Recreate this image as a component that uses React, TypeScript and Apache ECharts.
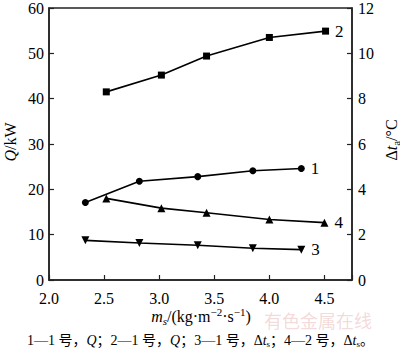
import React, { useEffect, useRef } from "react";
import * as echarts from "echarts";

const series1X = [2.33, 2.82, 3.35, 3.85, 4.29];
const series1Q = [17.1, 21.8, 22.8, 24.1, 24.6];
const series2X = [2.52, 3.02, 3.43, 4.0, 4.51];
const series2Q = [41.5, 45.2, 49.4, 53.5, 54.9];
const series3X = [2.33, 2.82, 3.35, 3.85, 4.29];
const series3T = [1.75, 1.63, 1.53, 1.4, 1.34];
const series4X = [2.52, 3.02, 3.43, 4.0, 4.5];
const series4T = [3.6, 3.17, 2.97, 2.67, 2.53];
const seriesNames = ["1", "2", "3", "4"];

const SERIF = "'Liberation Serif', 'Times New Roman', serif";

function pts(xs: number[], ys: number[], name: string) {
  return xs.map((x, i) =>
    i === xs.length - 1
      ? {
          value: [x, ys[i]],
          label: {
            show: true,
            formatter: name,
            position: "right",
            distance: 6,
            color: "#000",
            fontFamily: SERIF,
            fontSize: 17,
          },
        }
      : { value: [x, ys[i]] }
  );
}

export default function App() {
  const ref = useRef<HTMLDivElement>(null);
  useEffect(() => {
    if (!ref.current) return;
    const chart = echarts.init(ref.current, undefined, { renderer: "svg" });
    const axisCommon = {
      axisLine: { show: true, lineStyle: { color: "#222", width: 1.5 } },
      axisTick: { show: true, inside: true, length: 5, lineStyle: { color: "#222", width: 1.2 } },
      splitLine: { show: false },
      axisLabel: { color: "#000", fontFamily: SERIF, fontSize: 16 },
    };
    const lineCommon = {
      type: "line",
      lineStyle: { color: "#000", width: 1.6 },
      itemStyle: { color: "#000" },
      symbolSize: 7,
      showSymbol: true,
    };
    chart.setOption({
      animation: false,
      grid: {
        left: 49,
        top: 5,
        right: 48,
        bottom: 73,
        show: true,
        borderColor: "#222",
        borderWidth: 1.5,
        backgroundColor: "transparent",
      },
      xAxis: {
        type: "value",
        min: 2.0,
        max: 4.75,
        interval: 0.5,
        ...axisCommon,
        axisLabel: {
          ...axisCommon.axisLabel,
          margin: 10,
          formatter: (v: number) => (Math.abs(v - 4.75) < 1e-6 ? "" : v.toFixed(1)),
        },
      },
      yAxis: [
        {
          type: "value",
          min: 0,
          max: 60,
          interval: 10,
          position: "left",
          ...axisCommon,
          axisLabel: { ...axisCommon.axisLabel, margin: 5 },
        },
        {
          type: "value",
          min: 0,
          max: 12,
          interval: 2,
          position: "right",
          ...axisCommon,
          axisLabel: { ...axisCommon.axisLabel, margin: 6 },
        },
      ],
      series: [
        { ...lineCommon, name: seriesNames[0], yAxisIndex: 0, symbol: "circle", data: pts(series1X, series1Q, seriesNames[0]) },
        { ...lineCommon, name: seriesNames[1], yAxisIndex: 0, symbol: "rect", data: pts(series2X, series2Q, seriesNames[1]) },
        { ...lineCommon, name: seriesNames[2], yAxisIndex: 1, symbol: "triangle", symbolRotate: 180, symbolSize: 8, data: pts(series3X, series3T, seriesNames[2]) },
        { ...lineCommon, name: seriesNames[3], yAxisIndex: 1, symbol: "triangle", symbolSize: 8, data: pts(series4X, series4T, seriesNames[3]) },
      ],
      graphic: [
        {
          type: "text",
          x: 264,
          y: 320,
          z: -1,
          silent: true,
          style: {
            text: "有色金属在线",
            fill: "rgba(215,130,130,0.3)",
            font: `18px "Noto Sans CJK SC"`,
            align: "left",
            verticalAlign: "middle",
          },
        },
        {
          type: "text",
          x: 10,
          y: 142,
          rotation: Math.PI / 2,
          style: {
            text: "{i|Q}/kW",
            fill: "#000",
            font: `16px ${SERIF}`,
            align: "center",
            verticalAlign: "middle",
            rich: { i: { fontStyle: "italic", fontFamily: SERIF, fontSize: 16 } },
          },
        },
        {
          type: "text",
          x: 391,
          y: 140,
          rotation: Math.PI / 2,
          style: {
            text: "Δ{i|t}{sub|a}/°C",
            fill: "#000",
            font: `16px ${SERIF}`,
            align: "center",
            verticalAlign: "middle",
            rich: {
              i: { fontStyle: "italic", fontFamily: SERIF, fontSize: 16 },
              sub: { fontFamily: SERIF, fontSize: 11, verticalAlign: "bottom", lineHeight: 20 },
            },
          },
        },
        {
          type: "text",
          x: 201,
          y: 316,
          style: {
            text: "{i|m}{sub|s}/(kg·m{sup|−2}·s{sup|−1})",
            fill: "#000",
            font: `16px ${SERIF}`,
            align: "center",
            verticalAlign: "middle",
            rich: {
              i: { fontStyle: "italic", fontFamily: SERIF, fontSize: 16 },
              sub: { fontStyle: "italic", fontFamily: SERIF, fontSize: 11, verticalAlign: "bottom", lineHeight: 20 },
              sup: { fontFamily: SERIF, fontSize: 11, verticalAlign: "top", lineHeight: 20 },
            },
          },
        },
        {
          type: "text",
          x: 27,
          y: 340,
          style: {
            text: "1—1 号，{i|Q}；2—1 号，{i|Q}；3—1 号，Δ{i|t}{sub|s}；4—2 号，Δ{i|t}{sub|s}。",
            fill: "#000",
            font: `14px 'Liberation Serif', 'Noto Sans CJK SC', serif`,
            align: "left",
            verticalAlign: "middle",
            rich: {
              i: { fontStyle: "italic", fontFamily: SERIF, fontSize: 14 },
              sub: { fontFamily: SERIF, fontSize: 9, verticalAlign: "bottom", lineHeight: 16 },
            },
          },
        },
      ],
    });
    return () => chart.dispose();
  }, []);
  return <div ref={ref} style={{ width: 400, height: 353, position: "absolute", left: 0, top: 0, background: "#fff" }} />;
}
